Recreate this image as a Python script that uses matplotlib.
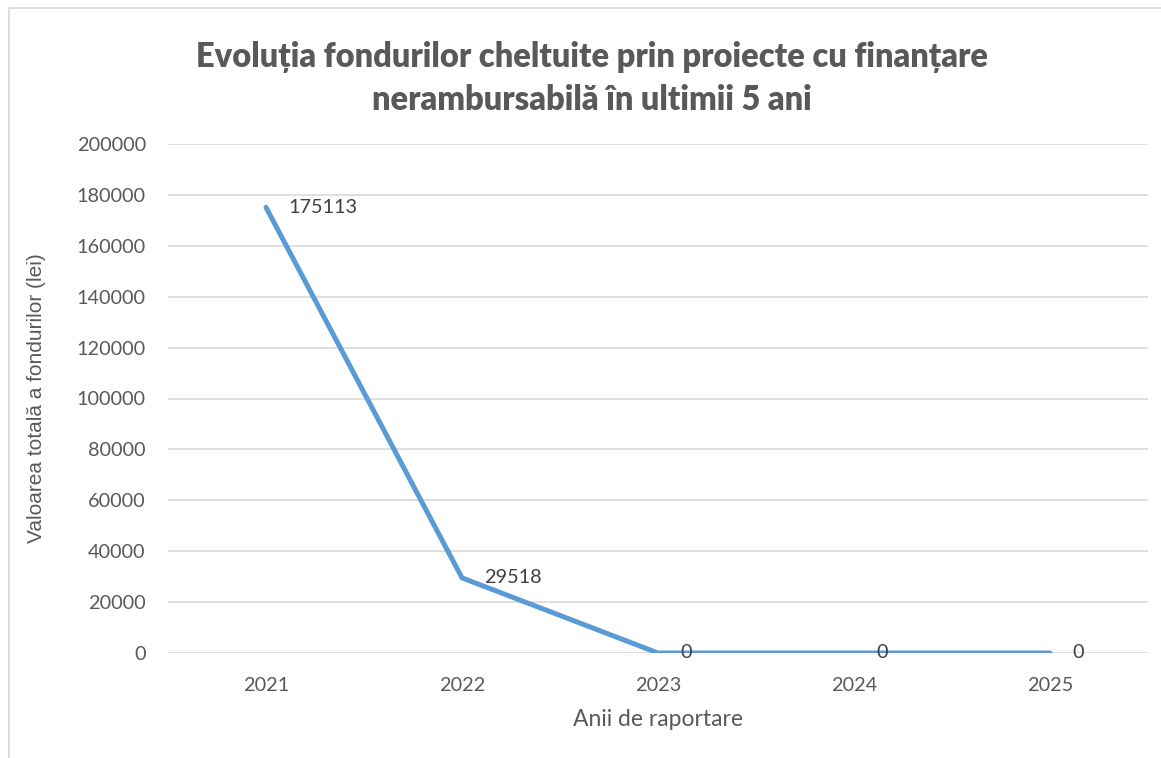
import matplotlib
matplotlib.use("Agg")
import matplotlib.pyplot as plt
from matplotlib.patches import Rectangle

plt.rcParams['font.family'] = ['Lato', 'DejaVu Sans']

# date
ani = ['2021', '2022', '2023', '2024', '2025']
valori = [175113, 29518, 0, 0, 0]
y_ticks = [0, 20000, 40000, 60000, 80000, 100000, 120000, 140000, 160000, 180000, 200000]

titlu = "Evoluția fondurilor cheltuite prin proiecte cu finanțare\nnerambursabilă în ultimii 5 ani"
eticheta_x = "Anii de raportare"
eticheta_y = "Valoarea totală a fondurilor (lei)"

GRI_TEXT = '#595959'
GRI_GRID = '#D9D9D9'
ALBASTRU = '#5B9BD5'

W, H = 1161, 758
fig = plt.figure(figsize=(W / 100, H / 100), dpi=100)

# chenarul graficului (doar stanga si sus se vad)
fig.patches.append(Rectangle((9 / W, -0.1), 1.2, (H - 8.5) / H + 0.1, transform=fig.transFigure,
                             fill=False, edgecolor=GRI_GRID, linewidth=1.2))

ax = fig.add_axes([168 / W, 105 / H, (1148 - 168) / W, (653 - 144) / H])
x = list(range(len(ani)))
ax.plot(x, valori, color=ALBASTRU, linewidth=3.6, solid_capstyle='round', solid_joinstyle='round', zorder=3)

ax.set_xlim(-0.5, len(ani) - 0.5)
ax.set_ylim(0, 200000)
ax.set_yticks(y_ticks)
ax.set_yticklabels([str(v) for v in y_ticks])
ax.set_xticks(x)
ax.set_xticklabels(ani)
ax.yaxis.grid(True, color=GRI_GRID, linewidth=1.2)
ax.set_axisbelow(True)
for s in ax.spines.values():
    s.set_visible(False)
ax.tick_params(axis='both', length=0, colors=GRI_TEXT, labelsize=14.3)
ax.tick_params(axis='y', pad=16)
ax.tick_params(axis='x', pad=17)

for xi, v in zip(x, valori):
    ax.annotate(str(v), (xi, v), xytext=(16, 0), textcoords='offset points',
                ha='left', va='center', fontsize=14.3, color='#404040', zorder=4)

ax.set_xlabel(eticheta_x, fontsize=16.5, color=GRI_TEXT, labelpad=11)
ax.set_ylabel(eticheta_y, fontsize=15, color=GRI_TEXT, labelpad=22,
              family=['Liberation Sans', 'DejaVu Sans'])

fig.text(592 / W, 1 - 78.5 / H, titlu, ha='center', va='center', fontsize=23.5,
         fontweight='heavy', color=GRI_TEXT, linespacing=1.42)

fig.savefig('out.png', dpi=100)
